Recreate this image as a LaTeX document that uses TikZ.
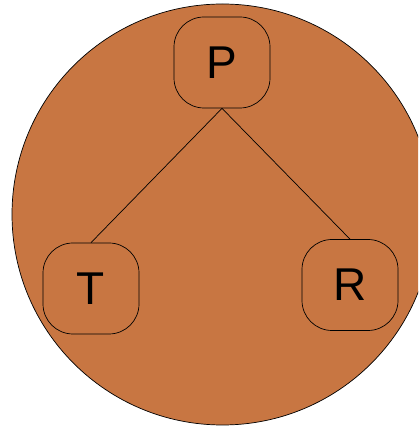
\documentclass[tikz,border=0pt]{standalone}
\usepackage{fontspec}
\setmainfont{Liberation Sans}
\usepackage{xcolor}
\usetikzlibrary{positioning}
\definecolor{clay}{RGB}{200,118,66}

\begin{document}
\begin{tikzpicture}[x=1pt, y=1pt, line width=0.7pt,
    leaf/.style={draw, rounded corners=30pt, minimum width=96pt, minimum height=91pt,
                 inner sep=0pt, font=\fontsize{46}{46}\selectfont}]
        \useasboundingbox (0,0) rectangle (418,427);
        % Background circle
        \begin{scope}
            \clip (0,0) rectangle (418,427);
            \draw[fill=clay] (222.5,212.5) circle (210.5);
        \end{scope}

        % Tree nodes
        \node[leaf] (p) at (222,364.5) {P};
        \node[leaf] (t) at (91,138.5) {T};
        \node[leaf] (r) at (350,142) {R};

        % Edges
        \draw (p.south) -- (t.north);
        \draw (p.south) -- (r.north);
    \end{tikzpicture}
\end{document}
